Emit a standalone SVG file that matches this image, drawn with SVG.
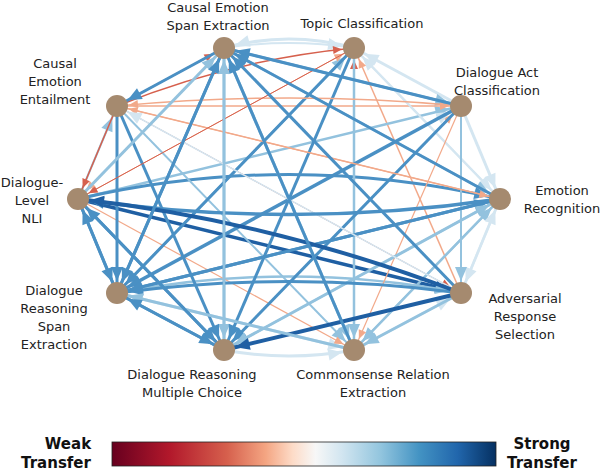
<svg xmlns="http://www.w3.org/2000/svg" width="604" height="472" viewBox="0 0 604 472">
<defs>
<style>
text{font-family:"DejaVu Sans",sans-serif;font-size:13px;fill:#222;text-anchor:middle}
.b{font-weight:bold;font-size:15px;fill:#111}
path{fill:none;stroke-linecap:butt}
.n{fill:#a58a6f}
.c1{stroke:#1f5fa3;marker-end:url(#m1)}
.c2{stroke:#4a90c4;marker-end:url(#m2)}
.c3{stroke:#93c2de;marker-end:url(#m3)}
.c4{stroke:#d4e6f1;marker-end:url(#m4)}
.c5{stroke:#f2a98a;marker-end:url(#m5)}
.c6{stroke:#d6604d;marker-end:url(#m6)}
</style>
<marker id="m1" markerUnits="userSpaceOnUse" markerWidth="30" markerHeight="30" viewBox="-16 -8 30 16" refX="12" refY="0" orient="auto"><path d="M-14,-6 L0,0 L-14,6 z" style="fill:#1f5fa3;stroke:none"/></marker>
<marker id="m2" markerUnits="userSpaceOnUse" markerWidth="30" markerHeight="30" viewBox="-16 -8 30 16" refX="12" refY="0" orient="auto"><path d="M-14,-6 L0,0 L-14,6 z" style="fill:#4a90c4;stroke:none"/></marker>
<marker id="m3" markerUnits="userSpaceOnUse" markerWidth="30" markerHeight="30" viewBox="-16 -8 30 16" refX="12" refY="0" orient="auto"><path d="M-14,-6 L0,0 L-14,6 z" style="fill:#93c2de;stroke:none"/></marker>
<marker id="m4" markerUnits="userSpaceOnUse" markerWidth="30" markerHeight="30" viewBox="-16 -8 30 16" refX="12" refY="0" orient="auto"><path d="M-14,-6 L0,0 L-14,6 z" style="fill:#d4e6f1;stroke:none"/></marker>
<marker id="m5" markerUnits="userSpaceOnUse" markerWidth="30" markerHeight="30" viewBox="-16 -8 30 16" refX="12" refY="0" orient="auto"><path d="M-9,-4 L0,0 L-9,4 z" style="fill:#f2a98a;stroke:none"/></marker>
<marker id="m6" markerUnits="userSpaceOnUse" markerWidth="30" markerHeight="30" viewBox="-16 -8 30 16" refX="12" refY="0" orient="auto"><path d="M-9,-4 L0,0 L-9,4 z" style="fill:#d6604d;stroke:none"/></marker>
<linearGradient id="cb" x1="0" x2="1" y1="0" y2="0">
<stop offset="0" stop-color="#67001f"/><stop offset="0.15" stop-color="#b2182b"/><stop offset="0.3" stop-color="#d6604d"/><stop offset="0.4" stop-color="#f4a582"/><stop offset="0.47" stop-color="#fddbc7"/><stop offset="0.53" stop-color="#f7f7f7"/><stop offset="0.6" stop-color="#d1e5f0"/><stop offset="0.7" stop-color="#92c5de"/><stop offset="0.8" stop-color="#4393c3"/><stop offset="0.9" stop-color="#2166ac"/><stop offset="1" stop-color="#053061"/>
</linearGradient>
</defs>
<g id="connectors">
<path class="c4" stroke-width="3" d="M354,48 Q289,30 224,48"/>
<path class="c4" stroke-width="2" d="M224,48 Q289,38 354,48"/>
<path class="c6" stroke-width="1.5" d="M117,106 L224,48"/>
<path class="c4" stroke-width="3" d="M461,106 L354,48"/>
<path class="c4" stroke-width="2" d="M500,199 L354,48"/>
<path class="c5" stroke-width="1.5" d="M461,293 L354,48"/>
<path class="c6" stroke-width="1.2" d="M354,350 L354,48"/>
<path class="c3" stroke-width="2.5" d="M117,293 L354,48"/>
<path class="c5" stroke-width="1" d="M78,199 L354,48"/>
<path class="c6" stroke-width="1.5" d="M117,106 Q230,60 354,48"/>
<path class="c3" stroke-width="2.5" d="M224,48 L461,106"/>
<path class="c3" stroke-width="2.5" d="M78,199 L461,106"/>
<path class="c5" stroke-width="1.5" d="M117,106 L461,106"/>
<path class="c5" stroke-width="1.2" d="M224,350 L461,106"/>
<path class="c4" stroke-width="2" d="M117,293 L461,106"/>
<path class="c4" stroke-width="3" d="M461,106 L500,199"/>
<path class="c4" stroke-width="2" d="M354,48 L500,199"/>
<path class="c3" stroke-width="2.5" d="M224,48 L500,199"/>
<path class="c2" stroke-width="3" d="M117,293 L500,199"/>
<path class="c2" stroke-width="3" d="M78,199 Q289,150 500,199"/>
<path class="c5" stroke-width="1.2" d="M117,106 L500,199"/>
<path class="c3" stroke-width="2" d="M224,350 L500,199"/>
<path class="c3" stroke-width="2" d="M354,350 L500,199"/>
<path class="c4" stroke-width="2.5" d="M461,293 L500,199"/>
<path class="c6" stroke-width="1" d="M117,106 L461,293"/>
<path class="c1" stroke-width="3.5" d="M78,199 L461,293"/>
<path class="c3" stroke-width="2.5" d="M117,293 Q289,260 461,293"/>
<path class="c4" stroke-width="2.5" d="M354,350 L461,293"/>
<path class="c4" stroke-width="2.5" d="M500,199 L461,293"/>
<path class="c3" stroke-width="2" d="M461,106 L461,293"/>
<path class="c3" stroke-width="3" d="M224,48 L354,350"/>
<path class="c3" stroke-width="2" d="M117,106 L354,350"/>
<path class="c3" stroke-width="2.5" d="M354,48 L354,350"/>
<path class="c4" stroke-width="3" d="M117,293 L354,350"/>
<path class="c4" stroke-width="3" d="M224,350 Q289,362 354,350"/>
<path class="c3" stroke-width="3" d="M461,293 L354,350"/>
<path class="c3" stroke-width="2.5" d="M500,199 L354,350"/>
<path class="c5" stroke-width="1.2" d="M461,106 L354,350"/>
<path class="c5" stroke-width="1.2" d="M78,199 L354,350"/>
<path class="c3" stroke-width="3" d="M224,48 L224,350"/>
<path class="c2" stroke-width="3" d="M117,106 L224,350"/>
<path class="c2" stroke-width="3" d="M78,199 L224,350"/>
<path class="c2" stroke-width="3" d="M117,293 L224,350"/>
<path class="c2" stroke-width="3" d="M461,106 L224,350"/>
<path class="c3" stroke-width="3" d="M500,199 L224,350"/>
<path class="c2" stroke-width="3" d="M354,48 L224,350"/>
<path class="c1" stroke-width="4" d="M461,293 L224,350"/>
<path class="c2" stroke-width="3" d="M224,48 L117,293"/>
<path class="c2" stroke-width="3" d="M117,106 L117,293"/>
<path class="c2" stroke-width="3" d="M78,199 L117,293"/>
<path class="c2" stroke-width="3" d="M461,293 Q289,270 117,293"/>
<path class="c3" stroke-width="3" d="M354,350 L117,293"/>
<path class="c2" stroke-width="3" d="M224,350 L117,293"/>
<path class="c2" stroke-width="3.5" d="M461,106 L117,293"/>
<path class="c2" stroke-width="3" d="M354,48 L117,293"/>
<path class="c2" stroke-width="3" d="M500,199 L117,293"/>
<path class="c2" stroke-width="3" d="M224,48 L117,106"/>
<path class="c5" stroke-width="1.5" d="M461,106 Q290,90 117,106"/>
<path class="c5" stroke-width="1.5" d="M500,199 L117,106"/>
<path class="c4" stroke-width="1.5" d="M461,293 L117,106"/>
<path class="c3" stroke-width="2" d="M78,199 L117,106"/>
<path class="c6" stroke-width="1" d="M354,48 L78,199"/>
<path class="c5" stroke-width="1.5" d="M224,48 L78,199"/>
<path class="c6" stroke-width="1.5" d="M117,106 L78,199"/>
<path class="c2" stroke-width="3" d="M224,350 L78,199"/>
<path class="c2" stroke-width="3" d="M117,293 L78,199"/>
<path class="c2" stroke-width="3.5" d="M500,199 Q289,230 78,199"/>
<path class="c1" stroke-width="4" d="M461,293 Q270,220 78,199"/>
<path class="c2" stroke-width="3" d="M461,106 L224,48"/>
<path class="c2" stroke-width="3" d="M500,199 L224,48"/>
<path class="c2" stroke-width="3" d="M461,293 L224,48"/>
<path class="c2" stroke-width="3" d="M354,350 L224,48"/>
<path class="c3" stroke-width="3" d="M78,199 L224,48"/>
<path class="c2" stroke-width="3" d="M117,293 L224,48"/>
<path class="c3" stroke-width="2.5" d="M224,350 L224,48"/>
</g>
<g id="nodes">
<g id="n-cese"><circle class="n" cx="224" cy="48" r="11"/><text x="218" y="12">Causal Emotion</text><text x="218" y="30">Span Extraction</text></g>
<g id="n-tc"><circle class="n" cx="354" cy="48" r="11"/><text x="362" y="28">Topic Classification</text></g>
<g id="n-dac"><circle class="n" cx="461" cy="106" r="11"/><text x="497" y="77">Dialogue Act</text><text x="497" y="95">Classification</text></g>
<g id="n-er"><circle class="n" cx="500" cy="199" r="11"/><text x="562" y="195">Emotion</text><text x="562" y="213">Recognition</text></g>
<g id="n-ars"><circle class="n" cx="461" cy="293" r="11"/><text x="525" y="303">Adversarial</text><text x="525" y="321">Response</text><text x="525" y="339">Selection</text></g>
<g id="n-cre"><circle class="n" cx="354" cy="350" r="11"/><text x="373" y="379">Commonsense Relation</text><text x="373" y="397">Extraction</text></g>
<g id="n-drmc"><circle class="n" cx="224" cy="350" r="11"/><text x="192" y="379">Dialogue Reasoning</text><text x="192" y="397">Multiple Choice</text></g>
<g id="n-drse"><circle class="n" cx="117" cy="293" r="11"/><text x="54" y="295">Dialogue</text><text x="54" y="313">Reasoning</text><text x="54" y="331">Span</text><text x="54" y="349">Extraction</text></g>
<g id="n-nli"><circle class="n" cx="78" cy="199" r="11"/><text x="32" y="187">Dialogue-</text><text x="32" y="205">Level</text><text x="32" y="223">NLI</text></g>
<g id="n-cee"><circle class="n" cx="117" cy="106" r="11"/><text x="55" y="68">Causal</text><text x="55" y="86">Emotion</text><text x="55" y="104">Entailment</text></g>
</g>
<g id="colorbar">
<rect x="112" y="442" width="384" height="24" fill="url(#cb)" stroke="#222" stroke-width="0.8"/>
<text class="b" x="68" y="449">Weak</text><text class="b" x="56" y="468">Transfer</text>
<text class="b" x="542" y="449">Strong</text><text class="b" x="542" y="468">Transfer</text>
</g>
</svg>
